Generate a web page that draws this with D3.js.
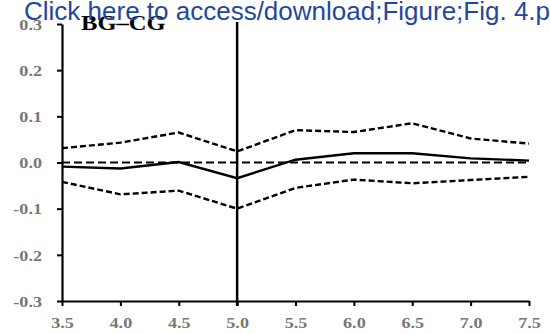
<!DOCTYPE html>
<html><head><meta charset="utf-8">
<script src="https://cdn.jsdelivr.net/npm/d3@7"></script>
<style>html,body{margin:0;padding:0;background:#fff;overflow:hidden}</style>
</head><body>
<svg id="c" width="550" height="334"></svg>
<script>
const xValues = [3.5, 4.0, 4.5, 5.0, 5.5, 6.0, 6.5, 7.0, 7.5];
const estimate = [-0.009, -0.013, 0.001, -0.034, 0.006, 0.020, 0.020, 0.009, 0.004];
const upperBand = [0.031, 0.043, 0.065, 0.024, 0.070, 0.066, 0.085, 0.052, 0.041];
const lowerBand = [-0.042, -0.069, -0.061, -0.100, -0.055, -0.037, -0.045, -0.038, -0.031];
const xTicks = [3.5, 4.0, 4.5, 5.0, 5.5, 6.0, 6.5, 7.0, 7.5];
const yTicks = [-0.3, -0.2, -0.1, 0.0, 0.1, 0.2, 0.3];
const shockX = 5.0;
const title = "BG\u2013CG";
const banner = "Click here to access/download;Figure;Fig. 4.pdf";

const svg = d3.select("#c");
const x = d3.scaleLinear().domain([3.5, 7.5]).range([62, 529]);
const y = d3.scaleLinear().domain([-0.3, 0.3]).range([301, 24]);

const serif = "'Liberation Serif','Times New Roman',serif";
const sx = 1.17; // horizontal stretch of serif text
const fmt = d => d3.format(".1f")(d).replace("\u2212", "-");

// axes
const xAxis = d3.axisBottom(x).tickValues(xTicks).tickFormat(fmt).tickSize(5).tickSizeOuter(0);
const gx = svg.append("g").attr("transform", `translate(0,${y(-0.3)})`).call(xAxis);
gx.select(".domain").attr("stroke", "#000").attr("stroke-width", 2.2);
gx.selectAll(".tick line").attr("stroke", "#000").attr("stroke-width", 2);
gx.selectAll(".tick text").attr("fill", "#777").attr("font-family", serif)
  .attr("font-weight", "bold").attr("font-size", 15.5).attr("dy", null).attr("y", 27)
  .attr("transform", `scale(${sx},1)`);

const yAxis = d3.axisLeft(y).tickValues(yTicks).tickFormat(fmt).tickSize(5).tickSizeOuter(0);
const gy = svg.append("g").attr("transform", `translate(${x(3.5)},0)`).call(yAxis);
gy.select(".domain").attr("stroke", "#000").attr("stroke-width", 2.2);
gy.selectAll(".tick line").attr("stroke", "#000").attr("stroke-width", 2);
gy.selectAll(".tick text").attr("fill", "#777").attr("font-family", serif)
  .attr("font-weight", "bold").attr("font-size", 15.5).attr("x", -20 / sx).attr("dy", "0.34em")
  .attr("transform", `scale(${sx},1)`);

// zero reference line
svg.append("line").attr("x1", x(3.5)).attr("x2", x(7.5)).attr("y1", y(0)).attr("y2", y(0))
  .attr("stroke", "#000").attr("stroke-width", 2.2).attr("stroke-dasharray", "8,4");

// vertical shock line
svg.append("line").attr("x1", x(shockX)).attr("x2", x(shockX)).attr("y1", 22).attr("y2", y(-0.3) + 5)
  .attr("stroke", "#000").attr("stroke-width", 2.5);

const line = d3.line().x((d, i) => x(xValues[i])).y(d => y(d));
svg.append("path").datum(upperBand).attr("d", line).attr("fill", "none")
  .attr("stroke", "#000").attr("stroke-width", 2.4).attr("stroke-dasharray", "6,3");
svg.append("path").datum(lowerBand).attr("d", line).attr("fill", "none")
  .attr("stroke", "#000").attr("stroke-width", 2.4).attr("stroke-dasharray", "6,3");
svg.append("path").datum(estimate).attr("d", line).attr("fill", "none")
  .attr("stroke", "#000").attr("stroke-width", 2.4);

// title
svg.append("text").attr("x", 81 / sx).attr("y", 30).attr("font-family", serif).attr("font-weight", "bold")
  .attr("font-size", 21).attr("fill", "#000").attr("transform", `scale(${sx},1)`).text(title);

// banner
svg.append("text").attr("x", 24).attr("y", 20).attr("font-family", "'Liberation Sans',Arial,sans-serif")
  .attr("font-size", 26).attr("fill", "#1f47a0").text(banner);
</script>
</body></html>
